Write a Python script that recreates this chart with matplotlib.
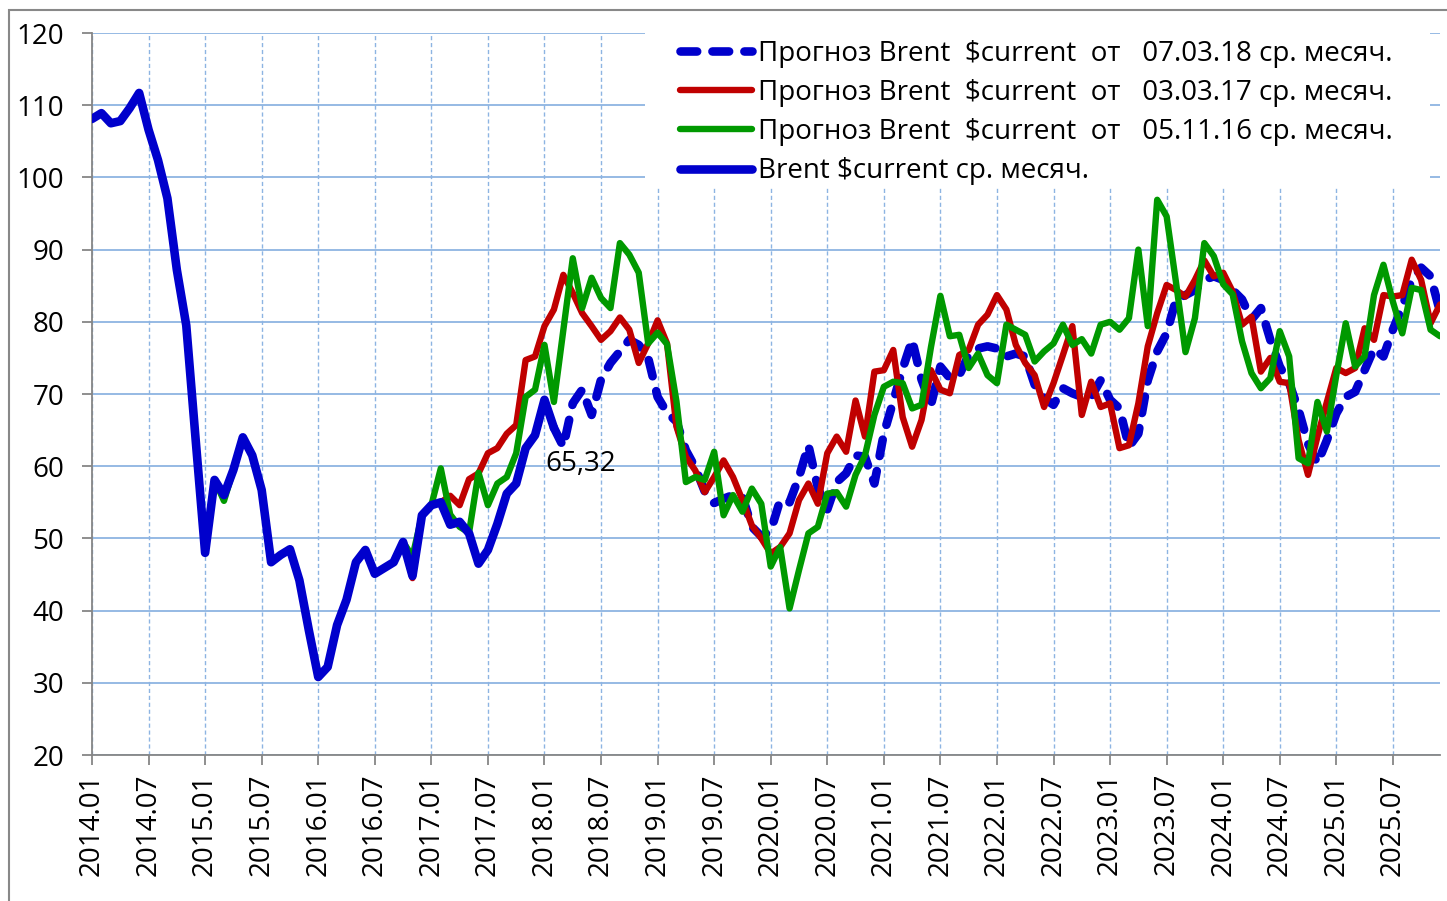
import matplotlib
matplotlib.use("Agg")
import matplotlib.pyplot as plt
from matplotlib.patches import Rectangle

plt.rcParams['font.family'] = ['Open Sans', 'DejaVu Sans']
plt.rcParams['lines.scale_dashes'] = False

# monthly index: 0 = 2014.01 ... 143 = 2025.12
start_year = 2014
n_months = 144

# Brent $current, monthly average (actual), 2014.01 .. 2018.02
brent_fact = [108.1, 108.9, 107.5, 107.8, 109.6, 111.7, 106.6, 102.4, 97.1, 87.2, 79.5, 63.6,
              48.0, 58.1, 56.0, 59.5, 64.0, 61.5, 56.7, 46.7, 47.7, 48.5, 44.2, 37.3,
              30.8, 32.2, 38.0, 41.5, 46.7, 48.4, 45.1, 45.9, 46.7, 49.5, 44.8, 53.2,
              54.6, 55.0, 51.9, 52.3, 50.7, 46.5, 48.4, 52.0, 56.2, 57.6, 62.5, 64.3,
              69.2, 65.32]

# forecast 07.03.18, starts 2018.02 (index 49)
fc_180307_start = 49
fc_180307 = [65.32, 62.7, 68.7, 70.6, 67.1, 72.0, 74.3, 75.9, 77.5, 76.8, 75.0,
             69.6, 67.4, 66.2, 62.2, 59.8, 56.5, 54.9, 55.5, 56.0, 55.8, 51.6, 50.3,
             51.0, 55.3, 55.0, 58.5, 62.9, 57.0, 54.0, 57.8, 59.0, 61.5, 61.3, 57.6,
             64.5, 69.0, 73.5, 77.5, 72.0, 68.5, 73.8, 72.2, 72.6, 75.4, 76.3, 76.6,
             76.3, 75.2, 75.6, 75.2, 71.3, 69.4, 68.5, 70.8, 70.1, 69.6, 69.6, 71.9,
             69.2, 68.0, 62.7, 64.5, 71.9, 75.9, 78.4, 83.1, 83.7, 84.4, 85.8, 86.3,
             85.8, 84.4, 83.1, 80.3, 81.9, 77.5, 73.8, 71.5, 67.8, 63.1, 60.4, 63.6,
             67.3, 69.6, 70.3, 73.3, 76.3, 75.2, 78.9, 82.1, 85.8, 87.5, 86.3, 81.4]

# forecast 03.03.17, starts 2016.01 (index 24)
fc_170303_start = 24
fc_170303 = [30.8, 32.2, 38.0, 41.5, 46.7, 48.4, 45.1, 45.9, 46.7, 49.5, 44.5, 53.2,
             54.6, 55.0, 55.9, 54.6, 58.2, 59.0, 61.8, 62.5, 64.5, 65.7, 74.7, 75.2,
             79.4, 81.7, 86.5, 84.0, 81.2, 79.4, 77.5, 78.7, 80.6, 78.9, 74.3, 77.0,
             80.2, 77.0, 65.5, 61.3, 59.4, 56.4, 58.5, 60.8, 58.5, 55.3, 51.8, 50.0,
             47.9, 48.8, 50.7, 55.3, 57.6, 54.8, 61.8, 64.1, 62.0, 69.1, 64.1, 73.1,
             73.3, 76.1, 66.8, 62.7, 66.4, 73.3, 70.6, 70.1, 75.4, 76.1, 79.6, 81.0,
             83.7, 81.7, 76.8, 74.3, 72.6, 68.2, 71.5, 75.4, 79.4, 67.1, 71.7, 68.2,
             68.7, 62.5, 62.9, 68.7, 76.6, 81.2, 85.1, 84.4, 83.5, 85.8, 88.5, 86.3,
             86.8, 84.2, 79.6, 80.7, 73.1, 75.0, 71.7, 71.5, 63.6, 58.8, 64.1, 68.9,
             73.6, 72.9, 73.6, 79.1, 77.5, 83.7, 83.5, 83.7, 88.6, 85.8, 79.8, 82.4]

# forecast 05.11.16, starts 2015.01 (index 12)
fc_161105_start = 12
fc_161105 = [48.0, 58.1, 55.2, 59.5, 64.0, 61.5, 56.7, 46.7, 47.7, 48.5, 44.2, 37.3,
             30.8, 32.2, 38.0, 41.5, 46.7, 48.4, 45.1, 45.9, 46.7, 49.5, 47.5, 53.2,
             54.6, 59.7, 53.3, 51.6, 50.8, 59.1, 54.6, 57.6, 58.5, 61.8, 69.6, 70.6,
             76.8, 68.9, 78.9, 88.8, 81.9, 86.1, 83.3, 81.9, 90.9, 89.3, 86.8, 77.0,
             78.5, 76.9, 69.0, 57.8, 58.5, 58.1, 62.0, 53.2, 56.0, 53.7, 56.9, 54.8,
             46.1, 48.8, 40.3, 45.6, 50.7, 51.6, 56.2, 56.4, 54.4, 58.8, 61.5, 67.1,
             71.0, 71.7, 71.5, 68.0, 68.5, 76.5, 83.6, 78.0, 78.2, 73.6, 75.6, 72.6,
             71.5, 79.6, 78.9, 78.2, 74.5, 75.9, 77.0, 79.6, 76.8, 77.6, 75.6, 79.6,
             80.0, 78.9, 80.5, 90.0, 79.4, 96.9, 94.6, 85.4, 75.8, 80.5, 90.9, 89.1,
             85.2, 83.8, 77.3, 72.9, 70.8, 72.2, 78.7, 75.2, 61.1, 60.4, 68.9, 64.8,
             72.6, 79.8, 73.8, 75.2, 83.7, 87.9, 82.8, 78.4, 84.7, 84.4, 78.9, 78.0]

labels = ['Прогноз Brent  $current  от   07.03.18 ср. месяч.',
          'Прогноз Brent  $current  от   03.03.17 ср. месяч.',
          'Прогноз Brent  $current  от   05.11.16 ср. месяч.',
          'Brent $current ср. месяч.']

tick_pos = list(range(0, n_months, 6))
tick_lab = ['%d.%02d' % (start_year + k // 12, k % 12 + 1) for k in tick_pos]

fig = plt.figure(figsize=(14.47, 9.01), dpi=100)
W, H = 1447.0, 901.0
ax = fig.add_axes([92 / W, 1 - 755 / H, (1440 - 92) / W, (755 - 33) / H])

def xs(start, vals):
    return list(range(start, start + len(vals)))

blue = '#0000CC'
ax.plot(xs(fc_180307_start, fc_180307), fc_180307, color=blue, lw=6.2,
        dashes=(12, 11), dash_capstyle='round', solid_capstyle='round', zorder=3,
        label=labels[0])
ax.plot(xs(fc_170303_start, fc_170303), fc_170303, color='#C00000', lw=4.6,
        solid_joinstyle='round', solid_capstyle='round', zorder=4, label=labels[1])
ax.plot(xs(fc_161105_start, fc_161105), fc_161105, color='#009900', lw=4.6,
        solid_joinstyle='round', solid_capstyle='round', zorder=5, label=labels[2])
ax.plot(xs(0, brent_fact), brent_fact, color=blue, lw=6.2,
        solid_joinstyle='round', solid_capstyle='round', zorder=6, label=labels[3])

# data label of last actual point
ax.text(51.8, 60.3, '65,32', fontsize=20, ha='center', va='center', zorder=7)

ax.set_xlim(0, n_months - 1)
ax.set_ylim(20, 120)
ax.set_yticks(range(20, 121, 10))
ax.set_xticks(tick_pos)
ax.set_xticklabels(tick_lab, rotation=90)

ax.grid(axis='y', color='#8DB4E2', lw=1.3, zorder=0)
ax.grid(axis='x', color='#8DB4E2', lw=1.0, linestyle=(0, (3, 2)), zorder=0)
ax.set_axisbelow(True)

for s in ['top', 'right']:
    ax.spines[s].set_visible(False)
for s in ['left', 'bottom']:
    ax.spines[s].set_color('#868686')
    ax.spines[s].set_linewidth(1.3)

ax.tick_params(axis='y', direction='out', length=7, width=1.3, color='#868686',
               labelsize=20, pad=13)
ax.tick_params(axis='x', direction='out', length=7, width=1.3, color='#868686',
               labelsize=20, pad=6)

# white legend area hiding the grid
ax.add_patch(Rectangle((645 / W, 1 - 187 / H), (1430 - 645) / W, (187 - 15) / H,
                       transform=fig.transFigure, facecolor='white',
                       edgecolor='none', zorder=2, clip_on=False))

leg = ax.legend(loc='upper left', bbox_to_anchor=(680 / W, 1 - 40 / H),
                bbox_transform=fig.transFigure, fontsize=20, frameon=False,
                handlelength=2.6, handletextpad=0.2, labelspacing=0.40,
                borderpad=0, borderaxespad=0)
leg.set_zorder(10)

# outer chart border (cut by the picture edge)
fig.add_artist(Rectangle((9 / W, -0.05), 1.1, 1 - 10 / H + 0.05,
                         transform=fig.transFigure, fill=False,
                         edgecolor='#888888', lw=1.5))

fig.savefig('out.png', dpi=100)
